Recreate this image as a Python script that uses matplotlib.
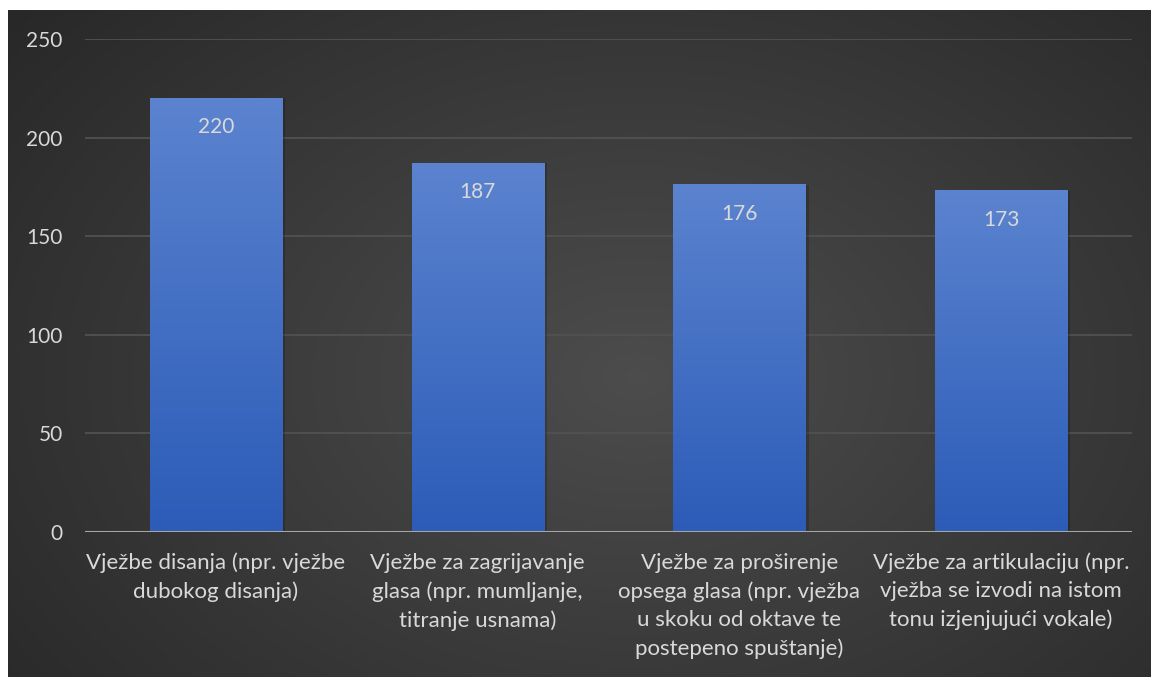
import numpy as np
import matplotlib.pyplot as plt

# data
categories = [
    'Vježbe disanja (npr. vježbe\ndubokog disanja)',
    'Vježbe za zagrijavanje\nglasa (npr. mumljanje,\ntitranje usnama)',
    'Vježbe za proširenje\nopsega glasa (npr. vježba\nu skoku od oktave te\npostepeno spuštanje)',
    'Vježbe za artikulaciju (npr.\nvježba se izvodi na istom\ntonu izjenjujući vokale)',
]
values = [220, 187, 176, 173]
yticks = [0, 50, 100, 150, 200, 250]

plt.rcParams['font.family'] = ['Lato', 'DejaVu Sans']
txt_color = '#D9D9D9'

fig = plt.figure(figsize=(11.51, 6.77), dpi=100)
fig.patch.set_facecolor('white')

# dark radial background
bg = fig.add_axes([8 / 1151, 0, 1 - 8 / 1151, 1 - 10 / 677])
bg.set_axis_off()
yy, xx = np.mgrid[0:1:300j, 0:1:500j]
r = np.sqrt(((xx - 0.55) / 0.75) ** 2 + ((yy - 0.45) / 0.9) ** 2)
shade = np.clip(0.30 - 0.15 * r, 0.15, 0.30)
bg.imshow(np.dstack([shade] * 3), aspect='auto', extent=[0, 1, 0, 1], origin='lower')

ax = fig.add_axes([85 / 1151, 145 / 677, (1132 - 85) / 1151, (532 - 39) / 677])
ax.patch.set_alpha(0)

x = np.arange(len(categories))
bars = ax.bar(x, values, width=0.505, color='none', zorder=3)

grad = np.linspace(0, 1, 256).reshape(-1, 1)
top_c = np.array([0x5B, 0x83, 0xCF]) / 255
bot_c = np.array([0x2C, 0x5C, 0xB8]) / 255
img = bot_c + (top_c - bot_c) * grad[..., None]
for b in bars:
    x0, w, h = b.get_x(), b.get_width(), b.get_height()
    # soft shadow
    ax.bar(x0 + w / 2 + 0.006, h, width=w + 0.012, color='black', alpha=0.18, zorder=2)
    ax.imshow(img, extent=[x0, x0 + w, 0, h], origin='lower', aspect='auto', zorder=3)
    ax.annotate(str(int(h)), (x0 + w / 2, h), xytext=(0, -29), textcoords='offset pixels',
                ha='center', va='center', color=txt_color, fontsize=15)

ax.set_xlim(-0.5, len(categories) - 0.5)
ax.set_ylim(0, 250)
ax.set_yticks(yticks)
ax.set_xticks(x)
ax.set_xticklabels(categories, color=txt_color, fontsize=16, linespacing=1.5, va='top')
ax.tick_params(axis='y', colors=txt_color, labelsize=15, length=0, pad=16)
ax.tick_params(axis='x', length=0, pad=15)
ax.grid(axis='y', color='#515151', linewidth=1.3, zorder=0)
for s in ax.spines.values():
    s.set_visible(False)
ax.axhline(0, color='#A6A6A6', linewidth=2.2, zorder=4)

fig.savefig('out.png', dpi=100)
